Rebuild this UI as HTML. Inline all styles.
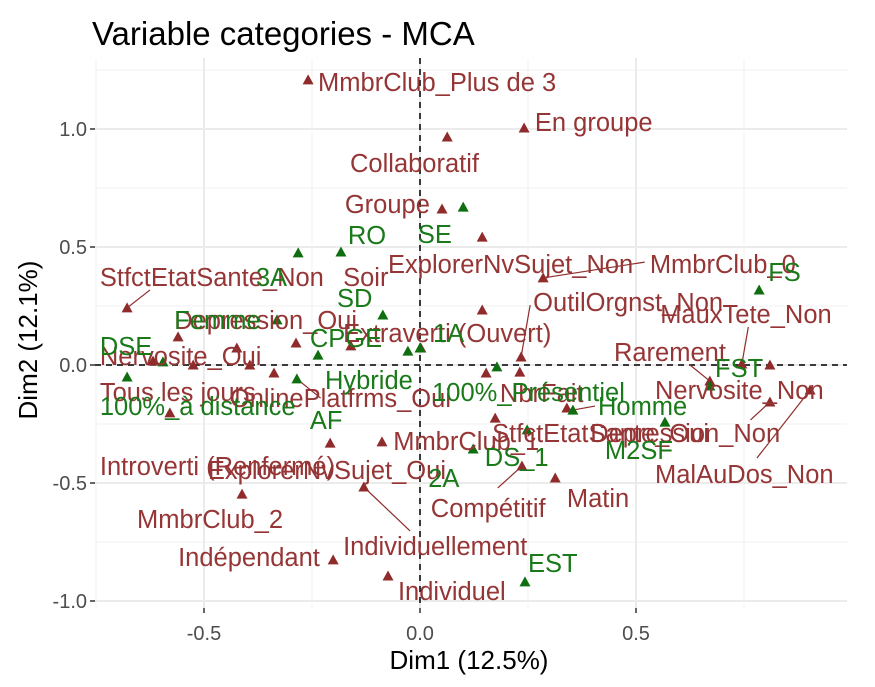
<!DOCTYPE html>
<html><head><meta charset="utf-8">
<style>
body{margin:0;background:#fff;}
svg{display:block;font-family:"Liberation Sans",sans-serif;}
</style></head>
<body>
<svg id="chart" width="875" height="687">
  <text x="92" y="45" font-size="33" fill="#000">Variable categories - MCA</text>
  <rect x="95" y="58" width="752" height="550" fill="#fff"/>
  <g id="grid"></g><g id="ref"></g><g id="segs"></g><g id="pts"></g><g id="labs"></g><g id="axes"></g>
  <text x="469" y="669" font-size="26" text-anchor="middle" fill="#000">Dim1 (12.5%)</text>
  <text transform="translate(37,340) rotate(-90)" font-size="26" text-anchor="middle" fill="#000">Dim2 (12.1%)</text>
</svg>
<script>
const redX=[-0.259,0.241,0.063,0.051,0.144,0.285,0.144,0.234,0.002,0.153,0.231,0.174,0.236,0.313,0.340,0.671,0.745,0.810,0.810,0.903,-0.088,-0.208,-0.130,-0.412,-0.201,-0.074,-0.678,-0.560,-0.424,-0.287,-0.160,-0.618,-0.525,-0.394,-0.338,-0.579];
const redY=[1.208,1.004,0.966,0.661,0.542,0.369,0.233,0.034,0.072,-0.034,-0.030,-0.225,-0.428,-0.479,-0.182,-0.068,0.004,0.0,-0.157,-0.106,-0.326,-0.331,-0.517,-0.547,-0.826,-0.894,0.242,0.119,0.072,0.093,0.081,0.017,0.0,0.0,-0.034,-0.203];
const greenX=[-0.282,-0.183,0.100,-0.086,-0.331,-0.236,-0.028,0.0,-0.678,-0.595,-0.285,0.178,0.354,0.567,0.671,0.785,0.248,0.123,0.243];
const greenY=[0.475,0.479,0.669,0.212,0.191,0.042,0.059,0.072,-0.051,0.013,-0.059,-0.008,-0.191,-0.242,-0.089,0.318,-0.275,-0.356,-0.919];
const redLabels=["MmbrClub_Plus de 3","En groupe","Collaboratif","Groupe","ExplorerNvSujet_Non","MmbrClub_0","OutilOrgnst_Non","MauxTete_Non","StfctEtatSante_Non","Soir","Depression_Oui","Extraverti (Ouvert)","Nervosite_Oui","Tous les jours","OnlinePlatfrms_Oui","Rarement","Nervosite_Non","NbrFait","StfctEtatSante_Oui","Depression_Non","MmbrClub_1","Introverti (Renfermé)","ExplorerNvSujet_Oui","MalAuDos_Non","Compétitif","Matin","MmbrClub_2","Individuellement","Indépendant","Individuel"];
const redLabX=[-0.236,0.266,-0.162,-0.174,-0.074,0.532,0.262,0.556,-0.741,-0.178,-0.569,-0.178,-0.741,-0.741,-0.440,0.449,0.544,0.185,0.167,0.394,-0.062,-0.741,-0.491,0.544,0.025,0.340,-0.655,-0.178,-0.560,-0.051];
const redLabY=[1.199,1.030,0.856,0.682,0.428,0.428,0.267,0.216,0.373,0.373,0.191,0.136,0.038,-0.114,-0.140,0.055,-0.106,-0.119,-0.288,-0.288,-0.322,-0.428,-0.445,-0.462,-0.606,-0.564,-0.653,-0.767,-0.814,-0.958];
const greenLabels=["FS","RO","SE","3A","SD","Femme","CPGE","1A","DSE","Hybride","100%_à distance","AF","100%_Présentiel","Homme","FST","M2SF","DS_1","2A","EST"];
const greenLabX=[0.806,-0.167,-0.005,-0.380,-0.192,-0.569,-0.255,0.030,-0.741,-0.220,-0.741,-0.255,0.028,0.412,0.683,0.428,0.150,0.019,0.250];
const greenLabY=[0.394,0.551,0.555,0.373,0.284,0.191,0.114,0.136,0.081,-0.064,-0.174,-0.233,-0.114,-0.174,-0.013,-0.360,-0.390,-0.479,-0.839];
const xTicks=[-0.5,0,0.5];const xTickLabels=["-0.5","0.0","0.5"];
const yTicks=[-1,-0.5,0,0.5,1];const yTickLabels=["-1.0","-0.5","0.0","0.5","1.0"];
const segFromX=[-0.678,0.285,0.234,0.745,0.671,0.810,0.903,0.236,-0.130,-0.285,0.354];
const segFromY=[0.242,0.369,0.034,0.004,-0.068,-0.157,-0.106,-0.428,-0.517,-0.059,-0.191];
const segToX=[-0.625,0.52,0.255,0.760,0.625,0.765,0.780,0.180,-0.023,-0.230,0.405];
const segToY=[0.318,0.436,0.254,0.161,0.000,-0.233,-0.394,-0.521,-0.703,-0.140,-0.174];

const X0=95,X1=847,Y0=58,Y1=608;
const sx=v=>420+v*432, sy=v=>365-v*236;
const NS="http://www.w3.org/2000/svg";
function mk(tag,attrs,parent){const e=document.createElementNS(NS,tag);for(const k in attrs)e.setAttribute(k,attrs[k]);document.getElementById(parent).appendChild(e);return e;}
const RED="#8f2b2b",GREEN="#0f6e0f",REDT="#963535",GREENT="#1a7a1a";
[-0.75,-0.25,0.25,0.75].forEach(v=>{const l=mk('line',{x1:sx(v),x2:sx(v),y1:Y0,y2:Y1,stroke:'#f0f0f0','stroke-width':1},'grid');

});
[-0.75,-0.25,0.25,0.75,1.25].forEach(v=>{const l=mk('line',{x1:X0,x2:X1,y1:sy(v),y2:sy(v),stroke:'#f0f0f0','stroke-width':1},'grid');

});
xTicks.forEach((v,i)=>{const l=mk('line',{x1:sx(v),x2:sx(v),y1:Y0,y2:Y1,stroke:'#ebebeb','stroke-width':2},'grid');


const t=mk('line',{x1:sx(v),x2:sx(v),y1:Y1,y2:Y1+5,stroke:'#333','stroke-width':1.5},'axes');


const tx=mk('text',{x:sx(v),y:Y1+32,'font-size':20,'text-anchor':'middle',fill:'#4d4d4d'},'axes');tx.textContent=xTickLabels[i];

});
yTicks.forEach((v,i)=>{const l=mk('line',{x1:X0,x2:X1,y1:sy(v),y2:sy(v),stroke:'#ebebeb','stroke-width':2},'grid');


const t=mk('line',{x1:X0-5,x2:X0,y1:sy(v),y2:sy(v),stroke:'#333','stroke-width':1.5},'axes');


const tx=mk('text',{x:X0-8,y:sy(v)+7,'font-size':20,'text-anchor':'end',fill:'#4d4d4d'},'axes');tx.textContent=yTickLabels[i];

});
const r1=mk('line',{x1:sx(0),x2:sx(0),y1:Y0,y2:Y1,stroke:'#000','stroke-width':1.5,'stroke-dasharray':'6,5'},'ref');


const r2=mk('line',{x1:X0,x2:X1,y1:sy(0),y2:sy(0),stroke:'#000','stroke-width':1.5,'stroke-dasharray':'6,5'},'ref');


segFromX.forEach((v,i)=>{const l=mk('line',{x1:sx(v),y1:sy(segFromY[i]),x2:sx(segToX[i]),y2:sy(segToY[i]),stroke:RED,'stroke-width':1.2},'segs');

});
function tri(x,y,c,name){const p=mk('polygon',{points:`${x},${y-5.5} ${x-5.5},${y+4.5} ${x+5.5},${y+4.5}`,fill:c},'pts');

}
redX.forEach((v,i)=>tri(sx(v),sy(redY[i]),RED,'variable-category-point'));
greenX.forEach((v,i)=>tri(sx(v),sy(greenY[i]),GREEN,'supplementary-category-point'));
redLabels.forEach((s,i)=>{const t=mk('text',{x:sx(redLabX[i]),y:sy(redLabY[i])+9,'font-size':25.5,fill:REDT},'labs');t.textContent=s;

});
greenLabels.forEach((s,i)=>{const t=mk('text',{x:sx(greenLabX[i]),y:sy(greenLabY[i])+9,'font-size':25.5,fill:GREENT},'labs');t.textContent=s;

});
</script>
</body></html>
